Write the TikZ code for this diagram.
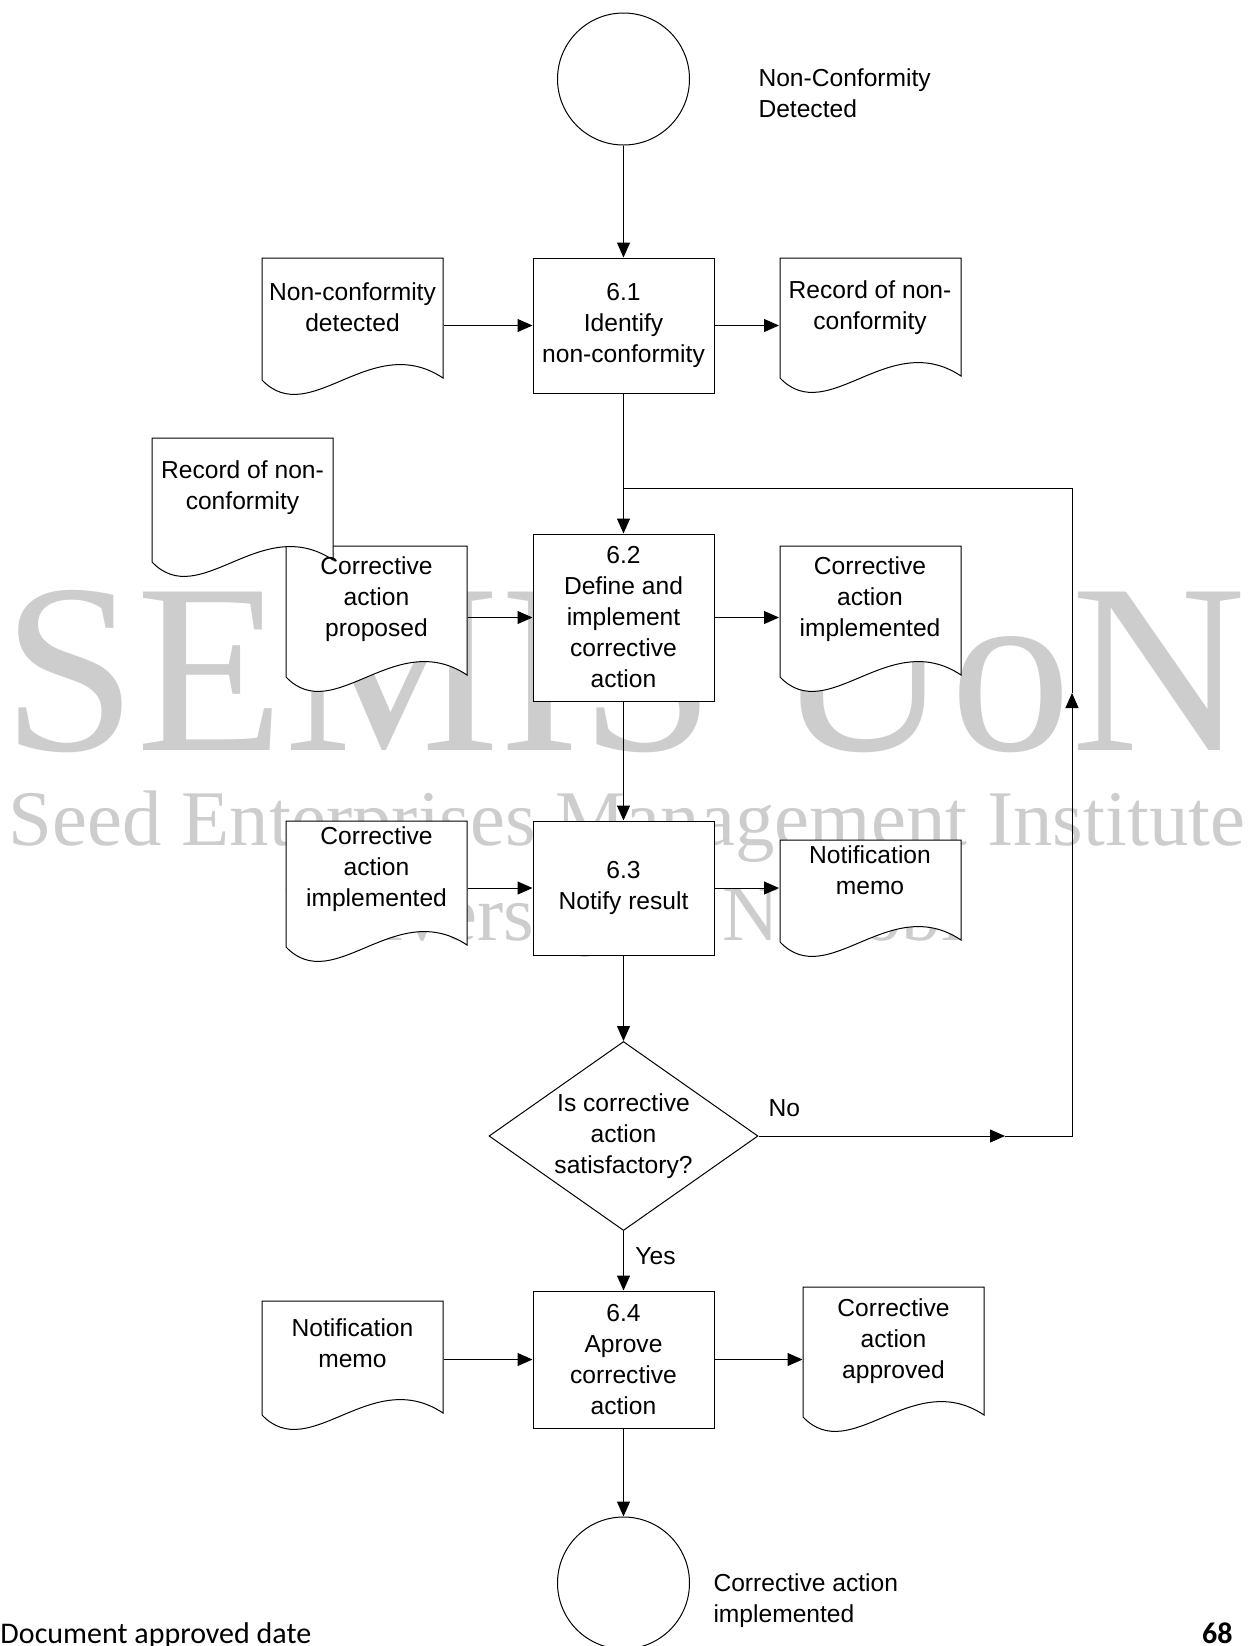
\documentclass[tikz,border=0pt]{standalone}
\usepackage{fontspec}
\setmainfont{Liberation Sans}
\newfontfamily\wmfont{Liberation Serif}
\newfontfamily\footfont{Carlito}
\usetikzlibrary{shapes.geometric,arrows.meta}

\definecolor{wmgray}{RGB}{205,205,205}

\tikzset{
  flow/.style={-{Triangle[length=7.5pt,width=6.5pt]}},
  proc/.style={draw, fill=white, minimum width=90.5pt, inner sep=0pt, align=center},
  doctext/.style={inner sep=0pt, minimum width=90.5pt, align=center},
  docline/.style={draw=black, fill=white},
  term/.style={draw, fill=white, circle, minimum size=66pt, inner sep=0pt},
  decision/.style={draw, fill=white, diamond, aspect=1.42, minimum width=134.5pt, minimum height=94.5pt, inner sep=0pt, align=center},
  lbl/.style={inner sep=0pt, align=left},
  wm/.style={text=wmgray, inner sep=0pt}
}

% document outline: left x, top y, height of left edge
\newcommand{\docpath}[3]{%
  \filldraw[docline] (#1,#2) -- ++(0,#3) .. controls +(48,50) and +(-72,-48) .. ++(181,-2) -- (#1+181,#2) -- cycle;
}

\begin{document}
\begin{tikzpicture}[x=0.5pt,y=-0.5pt,line width=0.5pt,font=\fontsize{12.3pt}{15.5pt}\selectfont]
	\useasboundingbox (0,0) rectangle (1248,1646);

	% watermark
	\node[wm, anchor=base, font=\wmfont\fontsize{121pt}{121pt}\selectfont] (wmA) at (624,750) {SEMIS UoN};
	\node[wm, anchor=base, font=\wmfont\fontsize{39.4pt}{40pt}\selectfont] (wmB) at (627,845) {Seed Enterprises Management Institute};
	\node[wm, anchor=base, font=\wmfont\fontsize{39.4pt}{40pt}\selectfont] (wmC) at (624,940) {University of Nairobi};

	% footer
	\node[anchor=base west, inner sep=0pt, font=\footfont\fontsize{15pt}{16pt}\selectfont] (date) at (0,1643) {Document approved date};
	\node[anchor=base east, inner sep=0pt, font=\footfont\bfseries\fontsize{15pt}{16pt}\selectfont] (page) at (1233,1643) {68};

	% start and end
	\node[term] (start) at (623.5,79) {};
	\node[lbl, anchor=west] (starttxt) at (758,93) {Non-Conformity\\Detected};
	\node[term] (stop) at (623.5,1583) {};
	\node[lbl, anchor=west] (stoptxt) at (713,1601) {Corrective action\\implemented};

	% documents
	\docpath{262}{258}{122}
	\docpath{780}{258}{120}
	\docpath{286}{546}{131}
	\docpath{152}{438}{124}
	\docpath{780}{546}{131}
	\docpath{286}{821}{126}
	\docpath{780}{840}{102}
	\docpath{262}{1301}{114}
	\docpath{803}{1287}{130}

	\node[doctext] (ncin) at (352.5,307.5) {Non-conformity\\detected};
	\node[doctext] (ncrec) at (870,307.5) {Record of non-\\conformity};
	\node[doctext] (ncrec2) at (242.5,488) {Record of non-\\conformity};
	\node[doctext] (caprop) at (376.5,599) {Corrective\\action\\proposed};
	\node[doctext] (caimp) at (870,599) {Corrective\\action\\implemented};
	\node[doctext] (caimp2) at (376.5,869) {Corrective\\action\\implemented};
	\node[doctext] (memo) at (870,870) {Notification\\memo};
	\node[doctext] (memo2) at (352.5,1343) {Notification\\memo};
	\node[doctext] (caok) at (893.5,1341) {Corrective\\action\\approved};

	% steps
	\node[proc, minimum height=67.5pt] (act61) at (623.5,325.5) {6.1\\Identify\\non-conformity};
	\node[proc, minimum height=83.5pt] (act62) at (623.5,617.5) {6.2\\Define and\\implement\\corrective\\action};
	\node[proc, minimum height=67pt] (act63) at (623.5,888) {6.3\\Notify result};
	\node[decision] (decide) at (623.5,1136) {Is corrective\\action\\satisfactory?};
	\node[proc, minimum height=68.5pt] (act64) at (623.5,1359.5) {6.4\\Aprove\\corrective\\action};

	\coordinate (notip) at (1005,1136);
	\coordinate (corner) at (1072,1136);
	\coordinate (uptip) at (1072,693);
	\coordinate (looptop) at (1072,488);

	% flow
	\draw[flow] (start) -- (act61);
	\draw[flow] (act61) -- (act62);
	\draw[flow] (act62) -- (act63);
	\draw[flow] (act63) -- (decide);
	\draw[flow] (decide) -- node[pos=0.43, xshift=16pt] (yes) {Yes} (act64);
	\draw[flow] (act64) -- (stop);

	\draw[flow] (decide) -- node[pos=0.105, yshift=14pt] (no) {No} (notip);
	\draw[flow] (notip) -- (corner) -- (uptip);
	\draw (uptip) -- (looptop) -- (looptop -| act62);

	\draw[flow] (ncin.east |- act61) -- (act61);
	\draw[flow] (act61) -- (ncrec.west |- act61);
	\draw[flow] (caprop.east |- act62) -- (act62);
	\draw[flow] (act62) -- (caimp.west |- act62);
	\draw[flow] (caimp2.east |- act63) -- (act63);
	\draw[flow] (act63) -- (memo.west |- act63);
	\draw[flow] (memo2.east |- act64) -- (act64);
	\draw[flow] (act64) -- (caok.west |- act64);
\end{tikzpicture}
\end{document}
